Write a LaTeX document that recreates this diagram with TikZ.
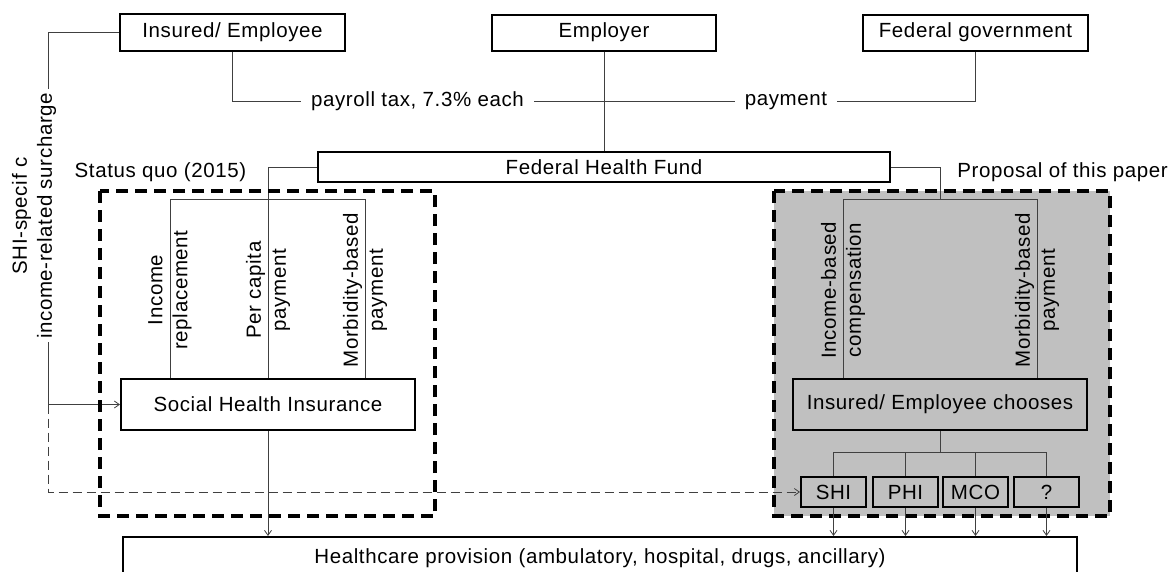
\documentclass[tikz,border=0pt]{standalone}
\usepackage{fontspec}
\setmainfont{Liberation Sans}[LetterSpace=3]
\usetikzlibrary{arrows.meta}
\definecolor{boxgray}{HTML}{C0C0C0}
\definecolor{linegray}{HTML}{404040}
\tikzset{
  txt/.style={font=\fontsize{20.5}{25}\selectfont, inner sep=0pt},
  boxnode/.style={txt, draw=black, line width=2pt},
  conn/.style={draw=linegray, line width=1pt},
  arr/.style={conn, -{Straight Barb[length=5pt,width=7pt,line width=0.8pt]}},
  dashconn/.style={dash pattern=on 9pt off 5pt},
  dashbox/.style={draw=black, line width=4.5pt, dash pattern=on 12pt off 7pt},
  rot/.style={txt, rotate=90, align=center},
  smallbox/.style={boxnode, fill=boxgray, minimum width=65pt, minimum height=30pt},
}
\begin{document}
\begin{tikzpicture}[x=1pt,y=-1pt]
\useasboundingbox (0,0) rectangle (1172,571);
% grey background of the proposal
\fill[boxgray] (774,191) rectangle (1110,516);

% top boxes
\node[boxnode, minimum width=225pt, minimum height=37pt] (ins) at (232.5,32.5) {Insured/ Employee};
\node[boxnode, minimum width=224pt, minimum height=36pt] (emp) at (604,32.5) {Employer};
\node[boxnode, minimum width=225pt, minimum height=36pt] (fed) at (975.5,32.5) {Federal government};
\node[boxnode, fill=white, minimum width=572pt, minimum height=30pt] (fhf) at (604,167) {Federal Health Fund};

% payment labels on the top line
\node[txt, inner xsep=10pt] (pt) at (417.5,101) {payroll tax, 7.3\% each};
\node[txt, inner xsep=10pt] (pm) at (786,101) {payment};

% lower boxes
\node[boxnode, minimum width=294pt, minimum height=51pt] (shi) at (268,404.5) {Social Health Insurance};
\node[boxnode, fill=boxgray, minimum width=294pt, minimum height=51pt] (iec) at (940,404.5) {Insured/ Employee chooses};
\node[smallbox] (b1) at (833.5,492) {SHI};
\node[smallbox] (b2) at (905.5,492) {PHI};
\node[smallbox] (b3) at (975.5,492) {MCO};
\node[smallbox] (b4) at (1046.5,492) {?};
\node[boxnode, minimum width=954pt, minimum height=42pt] (hc) at (600,558) {Healthcare provision (ambulatory, hospital, drugs, ancillary)};

% frame titles
\node[txt] (sq) at (160.5,172) {Status quo (2015)};
\node[txt, anchor=east] (pp) at (1168,172) {Proposal of this paper};

% top connectors
\draw[conn] (ins.south) |- (pt.west);
\draw[conn] (pt.east) -- (pm.west);
\draw[conn] (pm.east) -| (fed.south);
\draw[conn] (emp.south) -- (fhf.north);

% fund to the two systems
\coordinate (rt) at (940,199);
\draw[conn] (fhf.west) -| (shi.north);
\draw[conn] (fhf.east) -| (rt);

% payment channels (left)
\coordinate (l1) at (170,199);
\coordinate (l2) at (365,199);
\draw[conn] (l1 |- shi.north) -- (l1) -- (l2) -- (l2 |- shi.north);
\node[rot] (lab1) at (170,290) {Income\\replacement};
\node[rot] (lab2) at (268,290) {Per capita\\payment};
\node[rot] (lab3) at (365,290) {Morbidity-based\\payment};

% payment channels (right)
\coordinate (r1) at (843,199);
\coordinate (r2) at (1037,199);
\draw[conn] (r1 |- iec.north) -- (r1) -- (r2) -- (r2 |- iec.north);
\node[rot] (lab4) at (843,290) {Income-based\\compensation};
\node[rot] (lab5) at (1037,290) {Morbidity-based\\payment};

% surcharge
\node[rot] (sur) at (34,216) {SHI-specif c\\income-related surcharge};
\coordinate (s1) at (48,89);
\coordinate (s2) at (48,342);
\coordinate (s3) at (s2 |- shi.west);
\draw[conn] (ins.west) -| (s1);
\draw[arr] (s2) |- (shi.west);
\draw[arr, dashconn] (s3) |- (b1.west);

% choice branches
\coordinate (br) at (940,452);
\draw[conn] (iec.south) -- (br);
\draw[conn] (br) -| (b1.north);
\draw[conn] (br) -| (b2.north);
\draw[conn] (br) -| (b3.north);
\draw[conn] (br) -| (b4.north);

% dashed frames
\draw[dashbox] (100,191) rectangle (435,516);
\draw[dashbox] (774,191) rectangle (1110,516);

% flows to healthcare provision
\draw[arr] (shi.south) -- (shi.south |- hc.north);
\draw[arr] (b1.south) -- (b1.south |- hc.north);
\draw[arr] (b2.south) -- (b2.south |- hc.north);
\draw[arr] (b3.south) -- (b3.south |- hc.north);
\draw[arr] (b4.south) -- (b4.south |- hc.north);
\end{tikzpicture}
\end{document}
